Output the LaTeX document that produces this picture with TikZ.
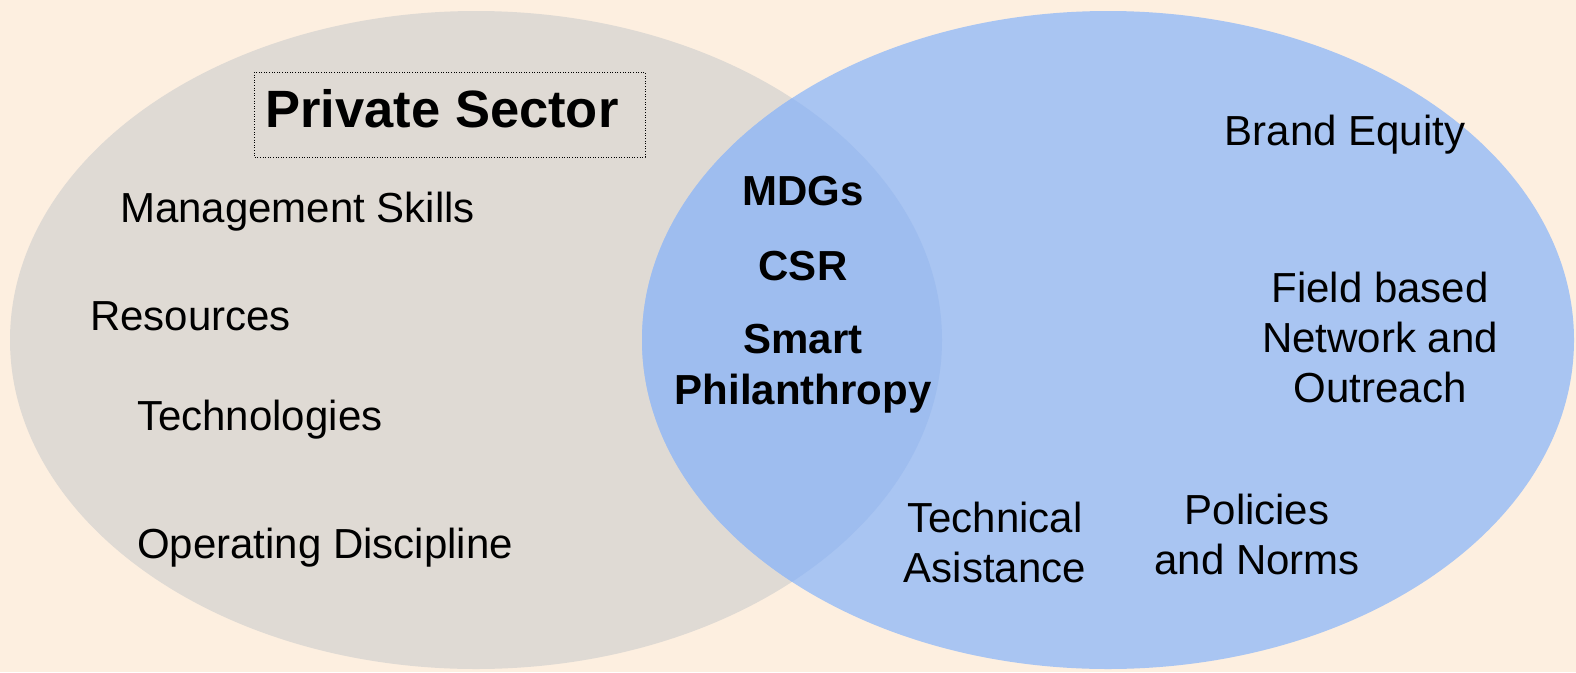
\documentclass[tikz,border=0pt]{standalone}
\usepackage{fontspec}
\setmainfont{Liberation Sans}
\definecolor{bgcream}{HTML}{FDEFE0}
\definecolor{leftgrey}{HTML}{DFDAD4}
\definecolor{rightblue}{HTML}{A9C5F2}
\definecolor{overlapblue}{HTML}{9EBDEF}
\begin{document}
\begin{tikzpicture}[x=1pt,y=-1pt,
  lbl/.style={inner sep=0pt, font=\fontsize{42}{50}\selectfont, align=center},
  blbl/.style={lbl, font=\fontsize{42}{51}\selectfont\bfseries},
  lleft/.style={lbl, anchor=base west},
  lcent/.style={lbl, anchor=base}]
\fill[bgcream] (0,0) rectangle (1576,672);
\useasboundingbox (0,0) rectangle (1576,672);
% circles
\fill[leftgrey] (476,340) ellipse [x radius=466, y radius=329];
\fill[rightblue] (1108,340) ellipse [x radius=466, y radius=329];
\begin{scope}
  \clip (476,340) ellipse [x radius=466, y radius=329];
  \fill[overlapblue] (1108,340) ellipse [x radius=466, y radius=329];
\end{scope}
% title box
\draw[line width=1pt, dash pattern=on 1pt off 1.6pt] (254,72) rectangle (645,157);
\node[lbl, anchor=base, font=\fontsize{52.5}{60}\selectfont\bfseries] (ps) at (442,127) {Private Sector};
% left items
\node[lleft] (ms) at (120,222) {Management Skills};
\node[lleft] (res) at (90,330) {Resources};
\node[lleft] (tech) at (137,430) {Technologies};
\node[lleft] (od) at (137,558) {Operating Discipline};
% overlap
\node[blbl, anchor=base] (mdg) at (803,205) {MDGs};
\node[blbl, anchor=base] (csr) at (803,280) {CSR};
\node[blbl, anchor=base] (sp) at (803,404) {Smart\\Philanthropy};
% right items
\node[lcent] (be) at (1345,145) {Brand Equity};
\node[lcent] (fb) at (1380,402) {Field based\\Network and\\Outreach};
\node[lcent] (ta) at (995,582) {Technical\\Asistance};
\node[lcent] (pn) at (1257,574) {Policies\\and Norms};
\end{tikzpicture}
\end{document}
